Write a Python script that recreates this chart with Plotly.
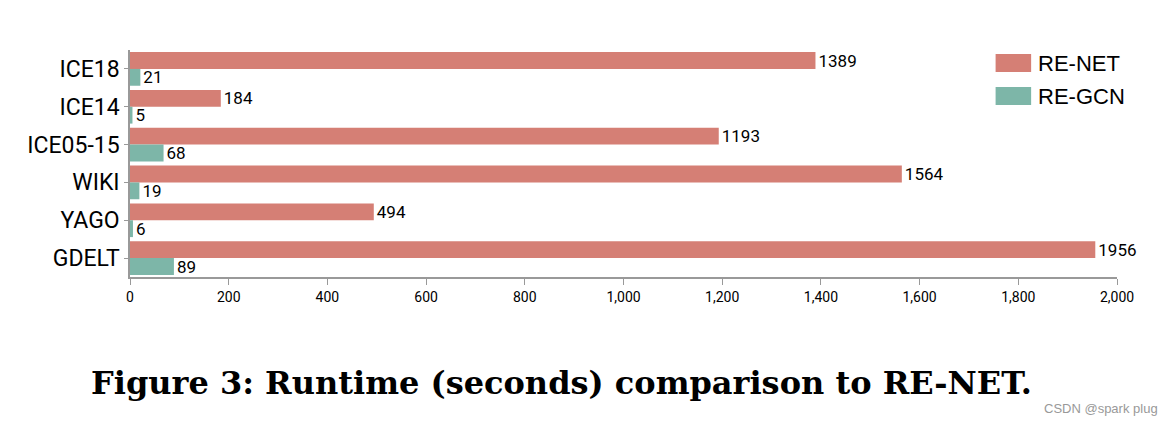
import plotly.graph_objects as go

datasets = ["ICE18", "ICE14", "ICE05-15", "WIKI", "YAGO", "GDELT"]
renet = [1389, 184, 1193, 1564, 494, 1956]
regcn = [21, 5, 68, 19, 6, 89]
series_names = ["RE-NET", "RE-GCN"]
colors = ["#d57f75", "#7db6a8"]
caption = "Figure 3: Runtime (seconds) comparison to RE-NET."
watermark = "CSDN @spark plug"

fig = go.Figure()
for name, vals, col in zip(series_names, [renet, regcn], colors):
    fig.add_trace(go.Bar(
        y=datasets, x=vals,
        orientation="h",
        name=name,
        marker=dict(color=col, line=dict(width=0)),
        text=[str(v) for v in vals],
        textposition="outside",
        constraintext="none",
        textfont=dict(family="Roboto", size=17, color="black"),
        cliponaxis=False,
        showlegend=False,
    ))

# legend drawn by hand so the swatches are wide rectangles like the original
for i, (name, col) in enumerate(zip(series_names, colors)):
    y0 = 0.982 - i * 0.145
    fig.add_shape(type="rect", xref="paper", yref="paper",
                  x0=0.877, x1=0.913, y0=y0 - 0.079, y1=y0,
                  fillcolor=col, line=dict(width=0))
    fig.add_annotation(x=0.918, y=y0 - 0.04, xref="paper", yref="paper",
                       text=name, showarrow=False, xanchor="left", yanchor="middle",
                       font=dict(family="Liberation Sans", size=22, color="black"))

fig.add_annotation(x=0.437, y=-0.467, xref="paper", yref="paper",
                   text="<b>" + caption + "</b>", showarrow=False,
                   xanchor="center", yanchor="middle",
                   font=dict(family="DejaVu Serif", size=32, color="black"))
fig.add_annotation(x=1.044, y=-0.581, xref="paper", yref="paper",
                   text=watermark, showarrow=False, xanchor="right", yanchor="middle",
                   font=dict(family="Liberation Sans", size=13, color="#999999"))

# the page body has an 8px margin, so the figure is 8px smaller each way
fig.update_layout(
    width=1168, height=418,
    template="plotly_white",
    plot_bgcolor="white", paper_bgcolor="white",
    barmode="group",
    bargap=0.11,
    bargroupgap=0.0,
    margin=dict(l=122, r=59, t=42, b=149),
    xaxis=dict(
        range=[0, 2000], dtick=200, tickformat=",d",
        showgrid=False, zeroline=False,
        showline=True, linecolor="#999999", linewidth=1.5,
        ticks="outside", ticklen=6, tickcolor="#999999",
        tickfont=dict(family="Roboto", size=14, color="black"),
    ),
    yaxis=dict(
        autorange="reversed",
        showgrid=False, zeroline=False,
        showline=True, linecolor="#999999", linewidth=1.5,
        ticks="outside", ticklen=4, tickcolor="#999999",
        tickfont=dict(family="Roboto", size=23, color="black"),
    ),
)

fig.write_html("out.html")
